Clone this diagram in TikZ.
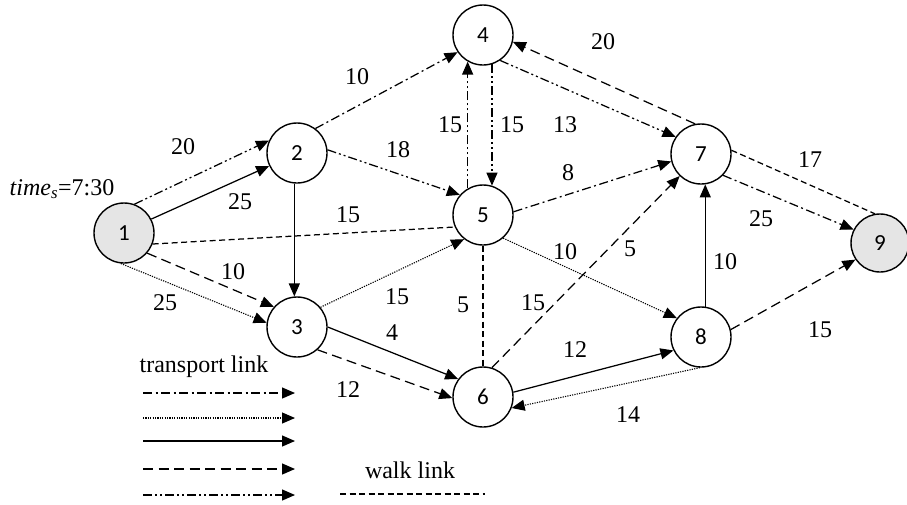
\documentclass[tikz,border=0pt]{standalone}
\usepackage{fontspec}
\setmainfont{Liberation Serif}
\newfontfamily\nodefont{Carlito}
\usetikzlibrary{arrows.meta}
\begin{document}
\begin{tikzpicture}[x=1pt,y=-1pt,
  stn/.style={circle,draw,line width=1.4pt,minimum size=60pt,inner sep=0pt,font=\nodefont\fontsize{23}{23}\selectfont},
  term/.style={stn,fill=black!10},
  lbl/.style={font=\fontsize{24}{24}\selectfont,inner sep=0pt},
  lnk/.style={line width=1.25pt,-{Triangle[length=13pt,width=11pt]}},
  dd/.style={lnk,dash pattern=on 9pt off 3.5pt on 2pt off 3.5pt},
  ddd/.style={lnk,dash pattern=on 9pt off 3pt on 2pt off 3pt on 2pt off 3pt},
  dotl/.style={lnk,line width=1.1pt,dash pattern=on 1.2pt off 1.2pt},
  sol/.style={lnk},
  ldash/.style={lnk,dash pattern=on 10pt off 5.5pt},
  walk/.style={line width=1.25pt,dash pattern=on 6pt off 3.5pt}]
\useasboundingbox (0,0) rectangle (907,504);
\fill[white] (0,0) rectangle (907,504);

% stations
\node[term] (n1) at (124,233) {1};
\node[stn]  (n2) at (297,153) {2};
\node[stn]  (n3) at (297,327) {3};
\node[stn]  (n4) at (483,35)  {4};
\node[stn]  (n5) at (483,215) {5};
\node[stn]  (n6) at (483,397) {6};
\node[stn]  (n7) at (701,154) {7};
\node[stn]  (n8) at (701,337) {8};
\node[term,minimum size=58pt] (n9) at (880,243) {9};

% links
\draw[ddd]   (n1.70)  -- (n2.156);
\draw[sol]   (n1.27)  -- (n2.205);
\draw[ldash] (n1.-41) -- (n3.139);
\draw[dotl]  (n1.-96) -- (n3.172);
\draw[walk]  (n1.-21) -- (n5.203);
\draw[sol]   (n2.-95) -- (n3.95);
\draw[dd]    (n2.53)  -- (n4.214);
\draw[ddd]   (n2.6)   -- (n5.139);
\draw[ddd]   (n5.120) -- (n4.240);
\draw[ddd]   (n4.-73) -- (n5.73);
\draw[ddd]   (n4.-56) -- (n7.146);
\draw[ldash] (n7.101) -- (n4.-13);
\draw[dd]    (n5.6)   -- (n7.194);
\draw[dotl]  (n3.40)  -- (n5.232);
\draw[sol]   (n3.0)   -- (n6.144);
\draw[ldash] (n3.-48) -- (n6.182);
\draw[walk]  (n5.-90) -- (n6.90);
\draw[ldash] (n6.73)  -- (n7.226);
\draw[dotl]  (n5.-49) -- (n8.142);
\draw[sol]   (n6.9)   -- (n8.206);
\draw[dotl]  (n8.-92) -- (n6.-21);
\draw[sol]   (n8.82)  -- (n7.-82);
\draw[ldash] (n8.14)  -- (n9.214);
\draw[walk]  (n7.7)   -- (n9.100);
\draw[dd]    (n7.-44) -- (n9.153);

% labels
\node[lbl] (t20a) at (183,147) {20};
\node[lbl] (t25a) at (240,202) {25};
\node[lbl] (t10a) at (233,272) {10};
\node[lbl] (t25b) at (165,303) {25};
\node[lbl] (t15a) at (348,215) {15};
\node[lbl] (t10b) at (357,77)  {10};
\node[lbl] (t18)  at (398,150) {18};
\node[lbl] (t15b) at (450,125) {15};
\node[lbl] (t15c) at (512,125) {15};
\node[lbl] (t13)  at (565,125) {13};
\node[lbl] (t20b) at (603,42)  {20};
\node[lbl] (t8)   at (568,173) {8};
\node[lbl] (t15d) at (397,297) {15};
\node[lbl] (t4)   at (392,333) {4};
\node[lbl] (t12a) at (348,390) {12};
\node[lbl] (t5a)  at (463,305) {5};
\node[lbl] (t15e) at (533,303) {15};
\node[lbl] (t5b)  at (630,249) {5};
\node[lbl] (t10c) at (565,252) {10};
\node[lbl] (t12b) at (575,350) {12};
\node[lbl] (t14)  at (628,415) {14};
\node[lbl] (t10d) at (725,262) {10};
\node[lbl] (t15f) at (820,330) {15};
\node[lbl] (t17)  at (810,160) {17};
\node[lbl] (t25c) at (761,219) {25};
\node[lbl] (tms)  at (62,189) {\textit{time}\textsubscript{\textit{s}}=7:30};

% legend
\node[lbl] (tl) at (204,367) {transport link};
\node[lbl] (wl) at (410,470) {walk link};
\coordinate (a1) at (143,393); \coordinate (b1) at (295,393);
\coordinate (a2) at (143,418); \coordinate (b2) at (295,418);
\coordinate (a3) at (143,441); \coordinate (b3) at (295,441);
\coordinate (a4) at (143,469); \coordinate (b4) at (295,469);
\coordinate (a5) at (143,495); \coordinate (b5) at (295,495);
\coordinate (a6) at (340,494); \coordinate (b6) at (485,494);
\draw[dd]    (a1) -- (b1);
\draw[dotl]  (a2) -- (b2);
\draw[sol]   (a3) -- (b3);
\draw[ldash] (a4) -- (b4);
\draw[ddd]   (a5) -- (b5);
\draw[walk]  (a6) -- (b6);
\end{tikzpicture}
\end{document}
